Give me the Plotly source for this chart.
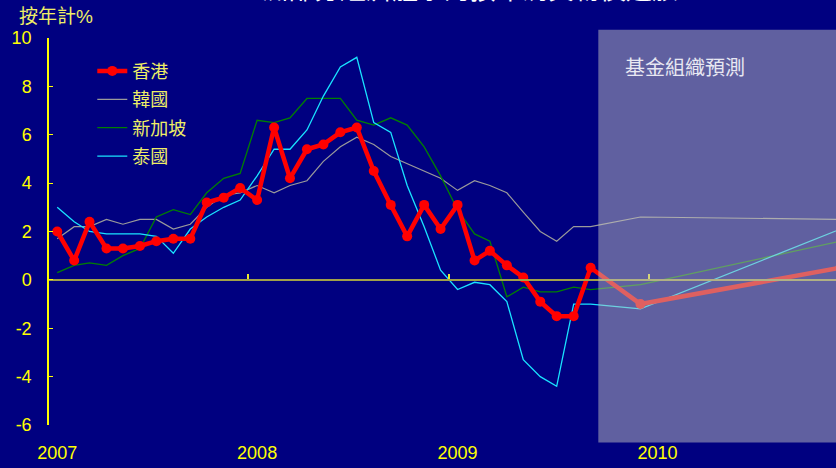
import pandas as pd
import plotly.graph_objects as go

# monthly CPI inflation, % yoy (Jan 2007 - Sep 2009), then IMF forecasts
months = pd.date_range("2007-01-01", "2009-09-01", freq="MS").strftime("%Y-%m-%d").tolist()
forecast_dates = ["2009-12-01", "2010-12-01"]

hk = [2.0, 0.8, 2.4, 1.3, 1.3, 1.4, 1.6, 1.7, 1.7, 3.2, 3.4, 3.8, 3.3, 6.3, 4.2, 5.4, 5.6,
      6.1, 6.3, 4.5, 3.1, 1.8, 3.1, 2.1, 3.1, 0.8, 1.2, 0.6, 0.1, -0.9, -1.5, -1.5, 0.5]
hk_fc = [-1.0, 0.5]

korea = [1.7, 2.2, 2.2, 2.5, 2.3, 2.5, 2.5, 2.1, 2.3, 3.0, 3.5, 3.6, 3.9, 3.6, 3.9, 4.1, 4.9,
         5.5, 5.9, 5.6, 5.1, 4.8, 4.5, 4.2, 3.7, 4.1, 3.9, 3.6, 2.8, 2.0, 1.6, 2.2, 2.2]
korea_fc = [2.6, 2.5]

singapore = [0.3, 0.6, 0.7, 0.6, 1.0, 1.3, 2.6, 2.9, 2.7, 3.6, 4.2, 4.4, 6.6, 6.5, 6.7, 7.5, 7.5,
             7.5, 6.6, 6.4, 6.7, 6.4, 5.5, 4.3, 2.9, 1.9, 1.6, -0.7, -0.3, -0.5, -0.5, -0.3, -0.4]
singapore_fc = [-0.2, 1.6]

thailand = [3.0, 2.4, 2.0, 1.9, 1.9, 1.9, 1.8, 1.1, 2.1, 2.6, 3.0, 3.3, 4.3, 5.4, 5.4, 6.2, 7.6,
            8.8, 9.2, 6.5, 6.1, 3.9, 2.2, 0.4, -0.4, -0.1, -0.2, -0.9, -3.3, -4.0, -4.4, -1.0, -1.0]
thailand_fc = [-1.2, 2.1]

year_labels = ["2007", "2008", "2009", "2010"]
year_pos = ["2007-01-01", "2008-01-01", "2009-01-01", "2010-01-01"]
year_breaks = ["2007-12-16", "2008-12-16", "2009-12-16"]
y_ticks = [-6, -4, -2, 0, 2, 4, 6, 8, 10]
y_tick_labels = ["-6", "-4", "-2", "0", "2", "4", "6", "8", "10"]

x_all = months + forecast_dates
font_fam = "Arial, 'Liberation Sans', 'Noto Sans CJK TC', sans-serif"

fig = go.Figure()

# thin lines first so Hong Kong sits on top
fig.add_trace(go.Scatter(x=x_all, y=korea + korea_fc, mode="lines", name="韓國",
                         line=dict(color="#9a9a9a", width=1.2), legendrank=2, legendgroup="kr"))
fig.add_trace(go.Scatter(x=x_all, y=singapore + singapore_fc, mode="lines", name="新加坡",
                         line=dict(color="#008000", width=1.3), legendrank=3, legendgroup="sg"))
fig.add_trace(go.Scatter(x=x_all, y=thailand + thailand_fc, mode="lines", name="泰國",
                         line=dict(color="#19e3ff", width=1.3), legendrank=4, legendgroup="th"))
fig.add_trace(go.Scatter(x=x_all, y=hk + hk_fc, mode="lines+markers", name="香港",
                         line=dict(color="#ff0000", width=4.5),
                         marker=dict(color="#ff0000", size=10), legendrank=1, legendgroup="hk"))

# dummy trace so the zero-line axis gets drawn
fig.add_trace(go.Scatter(x=[months[0]], y=[None], xaxis="x2", showlegend=False, hoverinfo="skip"))

# forecast shading
fig.add_shape(type="rect", xref="x", yref="paper", x0="2009-09-15", x1="2011-06-01",
              y0=-0.045, y1=1.021, fillcolor="rgba(192,192,192,0.5)", line_width=0,
              layer="above")

fig.add_annotation(text="基金組織預測", xref="x", yref="y", x="2010-02-21", y=8.77,
                   showarrow=False, font=dict(size=20, color="#e8e8f2", family=font_fam))
fig.add_annotation(text="按年計%", xref="paper", yref="paper", x=-0.041, y=1.055,
                   xanchor="left", yanchor="middle", showarrow=False,
                   font=dict(size=19, color="#eeee66", family=font_fam))
# title, mostly cut off by the top of the page
fig.add_annotation(text="亞洲部分經濟體系的按年消費物價通脹", xref="paper", yref="paper",
                   x=0.518, y=1.079, xanchor="center", yanchor="bottom", showarrow=False,
                   font=dict(size=26, color="#ffffff", family=font_fam))

fig.update_layout(
    width=836, height=468,
    margin=dict(l=49, r=0, t=38, b=43),
    paper_bgcolor="#000080", plot_bgcolor="#000080",
    font=dict(family=font_fam, color="#ffff00"),
    showlegend=True,
    legend=dict(x=0.055, y=0.962, xanchor="left", yanchor="top", bgcolor="rgba(0,0,0,0)",
                tracegroupgap=2, font=dict(size=18, color="#eeee66", family=font_fam)),
    xaxis=dict(type="date", range=["2006-12-17", "2010-11-23"], tickvals=year_pos,
               ticktext=year_labels, showline=False, ticks="", showgrid=False, zeroline=False,
               tickfont=dict(size=18, color="#ffff00"), ticklabelstandoff=15),
    xaxis2=dict(overlaying="x", matches="x", anchor="free", position=0.375, side="bottom",
                showline=True, linecolor="#a0a048", linewidth=2, ticks="inside", ticklen=5,
                tickcolor="#e8e830", tickwidth=1.5, tickvals=year_breaks, showticklabels=False,
                showgrid=False, zeroline=False),
    yaxis=dict(range=[-6, 10], tickvals=y_ticks, ticktext=y_tick_labels, showline=True,
               linecolor="#ffff00", linewidth=1.5, ticks="inside", ticklen=4,
               tickcolor="#ffff00", showgrid=False, zeroline=False,
               tickfont=dict(size=18, color="#ffff00"), ticklabelstandoff=12),
)

# page has a default 8px body margin; drop it so the figure sits in the corner
page_js = "document.body.style.margin='0';document.body.style.background='#000080';"
fig.write_html("out.html", post_script=page_js, config={"displayModeBar": False})
